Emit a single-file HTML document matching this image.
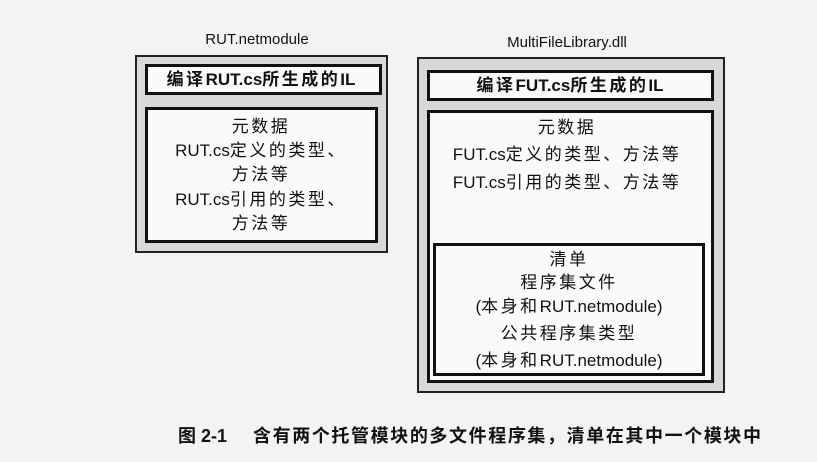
<!DOCTYPE html>
<html><head><meta charset="utf-8"><style>
body{margin:0;width:817px;height:462px;background:#f3f3f3;position:relative;overflow:hidden;font-family:"Liberation Sans","Noto Sans CJK SC",sans-serif;color:#111}
.b{position:absolute;box-sizing:border-box}
.o{background:#d8d8d8;border:2px solid #222}
.w{background:#fafafa;border:3px solid #111}
.t{position:absolute;white-space:nowrap;font-size:17px;transform:translateX(-50%);line-height:20px}
.c{letter-spacing:2.5px}
.h{font-weight:bold;font-size:17px}
</style></head><body>
<div class="t" style="left:257px;top:30px;font-size:15px">RUT.netmodule</div>
<div class="b o" style="left:135px;top:55px;width:253px;height:198px"></div>
<div class="b w" style="left:145px;top:64px;width:237px;height:31px"></div>
<div class="b w" style="left:145px;top:107px;width:233px;height:136px"></div>
<div class="t h" style="left:261px;top:70px"><span class="c">编译</span>RUT.cs<span class="c">所生成的</span>IL</div>
<div class="t" style="left:261px;top:117px"><span class="c">元数据</span></div>
<div class="t" style="left:261px;top:141px">RUT.cs<span class="c">定义的类型、</span></div>
<div class="t" style="left:261px;top:165px"><span class="c">方法等</span></div>
<div class="t" style="left:261px;top:190px">RUT.cs<span class="c">引用的类型、</span></div>
<div class="t" style="left:261px;top:214px"><span class="c">方法等</span></div>

<div class="t" style="left:567px;top:33px;font-size:15px">MultiFileLibrary.dll</div>
<div class="b o" style="left:417px;top:57px;width:308px;height:336px"></div>
<div class="b w" style="left:427px;top:70px;width:287px;height:31px"></div>
<div class="b w" style="left:427px;top:110px;width:287px;height:273px"></div>
<div class="b w" style="left:433px;top:243px;width:272px;height:133px"></div>
<div class="t h" style="left:570px;top:76px"><span class="c">编译</span>FUT.cs<span class="c">所生成的</span>IL</div>
<div class="t" style="left:567px;top:118px"><span class="c">元数据</span></div>
<div class="t" style="left:567px;top:145px">FUT.cs<span class="c">定义的类型、方法等</span></div>
<div class="t" style="left:567px;top:173px">FUT.cs<span class="c">引用的类型、方法等</span></div>
<div class="t" style="left:569px;top:250px"><span class="c">清单</span></div>
<div class="t" style="left:569px;top:273px"><span class="c">程序集文件</span></div>
<div class="t" style="left:569px;top:297px">(<span class="c">本身和</span>RUT.netmodule)</div>
<div class="t" style="left:569px;top:324px"><span class="c">公共程序集类型</span></div>
<div class="t" style="left:569px;top:351px">(<span class="c">本身和</span>RUT.netmodule)</div>

<div style="position:absolute;left:178px;top:425px;white-space:nowrap;font-weight:bold;font-size:18px;line-height:22px">图 2-1<span style="display:inline-block;width:26px"></span><span style="letter-spacing:1.6px">含有两个托管模块的多文件程序集，清单在其中一个模块中</span></div>
</body></html>
